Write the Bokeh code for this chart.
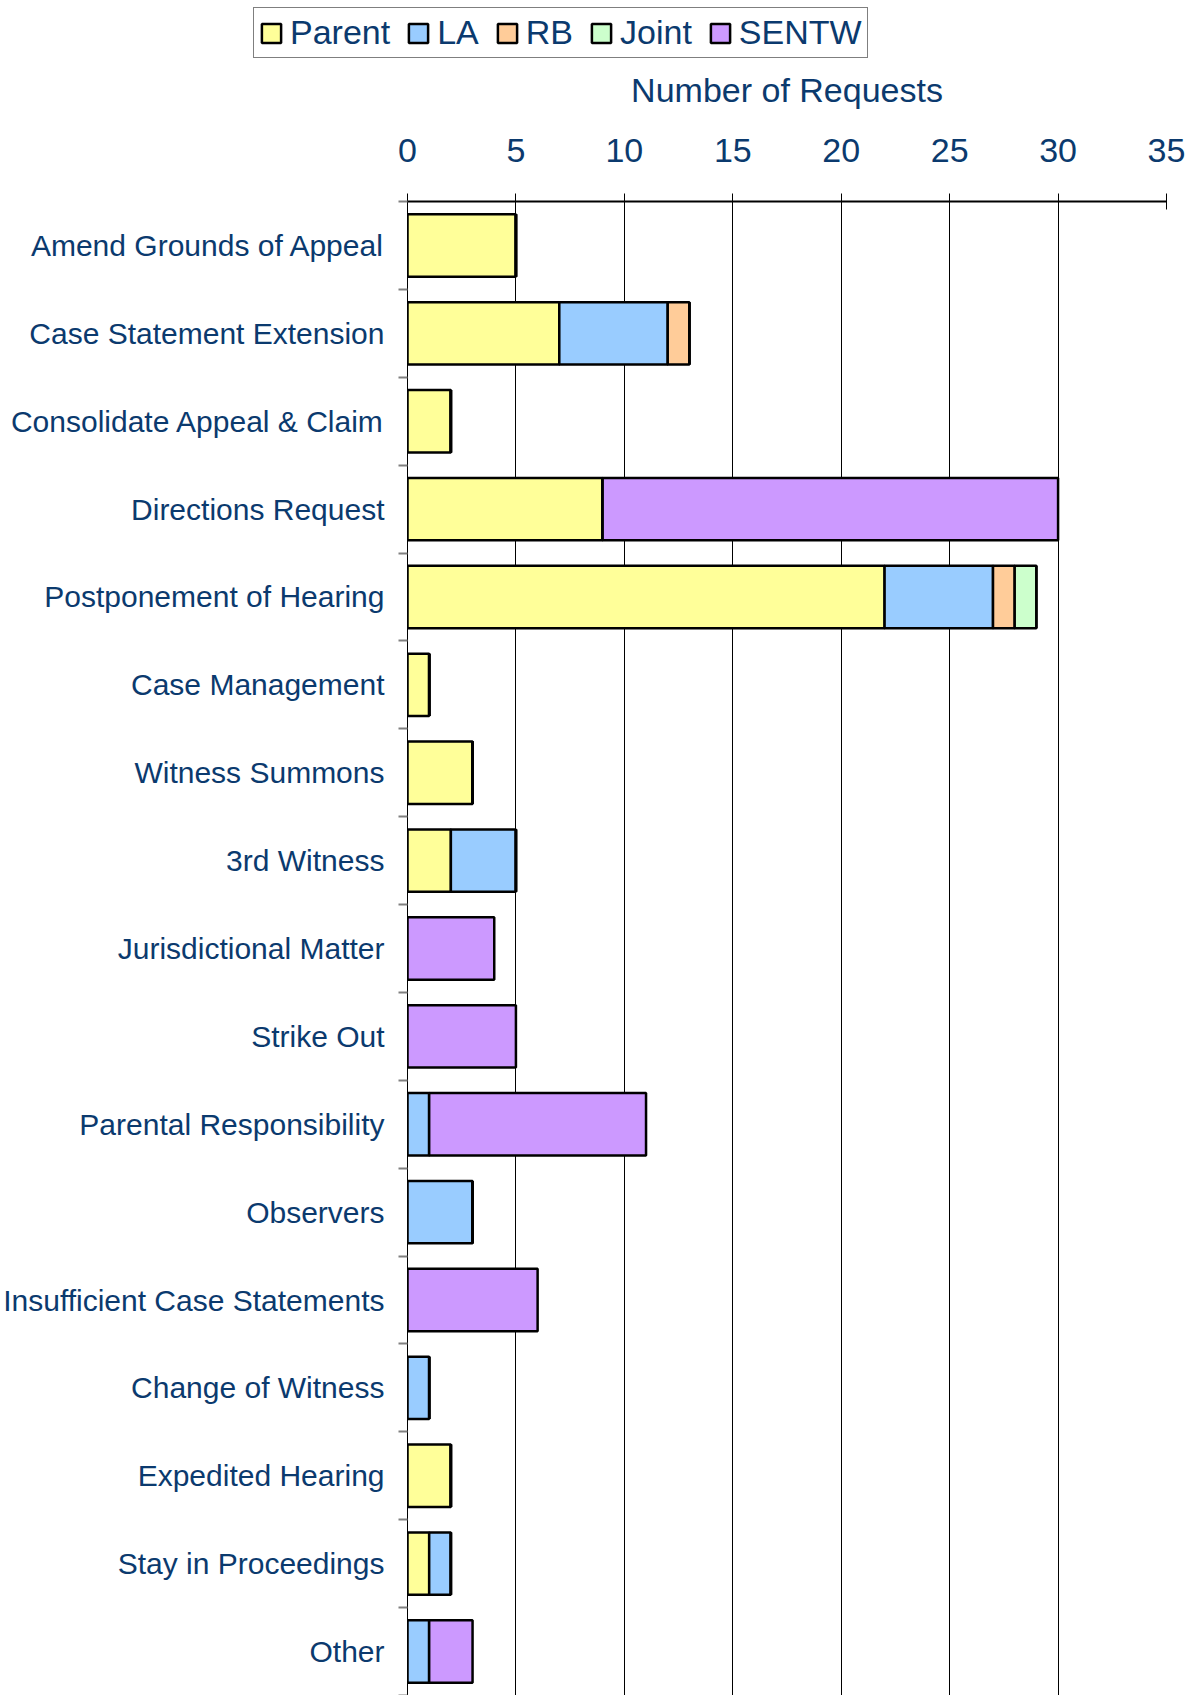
from bokeh.plotting import figure
from bokeh.layouts import column
from bokeh.models import Range1d, FixedTicker, Legend, LegendItem, ColumnDataSource
from bokeh.embed import file_html
from bokeh.resources import INLINE

categories = [
    "Amend Grounds of Appeal", "Case Statement Extension", "Consolidate Appeal & Claim",
    "Directions Request", "Postponement of Hearing", "Case Management", "Witness Summons",
    "3rd Witness", "Jurisdictional Matter", "Strike Out", "Parental Responsibility",
    "Observers", "Insufficient Case Statements", "Change of Witness", "Expedited Hearing",
    "Stay in Proceedings", "Other",
]
parent = [5, 7, 2, 9, 22, 1, 3, 2, 0, 0, 0, 0, 0, 0, 2, 1, 0]
la     = [0, 5, 0, 0, 5, 0, 0, 3, 0, 0, 1, 3, 0, 1, 0, 1, 1]
rb     = [0, 1, 0, 0, 1, 0, 0, 0, 0, 0, 0, 0, 0, 0, 0, 0, 0]
joint  = [0, 0, 0, 0, 1, 0, 0, 0, 0, 0, 0, 0, 0, 0, 0, 0, 0]
sentw  = [0, 0, 0, 21, 0, 0, 0, 0, 4, 5, 10, 0, 6, 0, 0, 0, 2]
series_names = ["Parent", "LA", "RB", "Joint", "SENTW"]
series_colors = ["#FFFF99", "#99CCFF", "#FFCC99", "#CCFFCC", "#CC99FF"]
x_ticks = [0, 5, 10, 15, 20, 25, 30, 35]

TEXT = "#0B3A6E"
FONT = "Liberation Sans"
WIDTH = 1188

n = len(categories)
centers = [i + 0.5 for i in range(n)]
source = ColumnDataSource(dict(y=centers, Parent=parent, LA=la, RB=rb, Joint=joint, SENTW=sentw))

# ---- legend strip (separate figure so the legend is not clipped) ----
LEG_H = 62
top = figure(width=WIDTH, height=LEG_H, x_range=Range1d(0, 35), y_range=Range1d(n, 0),
             x_axis_type=None, y_axis_type=None, output_backend="svg", toolbar_location=None,
             min_border=0)
top.frame_align = False
top.outline_line_color = None
top.xgrid.visible = False
top.ygrid.visible = False
# same stacked bars, hidden: they only feed the legend swatches
leg_renderers = top.hbar_stack(series_names, y="y", height=0.71, color=series_colors,
                               line_color="black", line_width=2.5, source=source)
for r in leg_renderers:
    r.visible = False
legend = Legend(
    items=[LegendItem(label=name, renderers=[r]) for name, r in zip(series_names, leg_renderers)],
    orientation="horizontal",
    location=(253, 4),
    label_text_font=FONT, label_text_font_size="34px", label_text_color=TEXT,
    glyph_width=24, glyph_height=24, label_standoff=7, spacing=16, padding=5,
    border_line_color="black", border_line_width=1, background_fill_color="white",
    background_fill_alpha=1, margin=0, inactive_fill_alpha=0,
)
top.add_layout(legend, "center")

# ---- main chart ----
TOP = 201 - LEG_H
HEIGHT = 1695 - LEG_H
p = figure(width=WIDTH, height=HEIGHT, x_range=Range1d(0, 35), y_range=Range1d(n, 0),
           x_axis_location="above", output_backend="svg", toolbar_location=None,
           min_border_left=394, min_border_right=22, min_border_top=TOP, min_border_bottom=0)
p.frame_align = False
p.outline_line_color = None
p.background_fill_color = "white"

p.hbar_stack(series_names, y="y", height=0.71, color=series_colors,
             line_color="black", line_width=2.5, source=source)

xa = p.xaxis[0]
xa.ticker = FixedTicker(ticks=x_ticks)
xa.axis_label = "Number of Requests"
xa.axis_label_text_font = FONT
xa.axis_label_text_font_size = "34px"
xa.axis_label_text_font_style = "normal"
xa.axis_label_text_color = TEXT
xa.axis_label_standoff = 27
xa.major_label_text_font = FONT
xa.major_label_text_font_size = "34px"
xa.major_label_text_color = TEXT
xa.major_label_standoff = 32
xa.major_tick_out = 8
xa.major_tick_in = 8
xa.major_tick_line_color = "black"
xa.minor_tick_line_color = None
xa.axis_line_color = "black"
xa.axis_line_width = 2

ya = p.yaxis[0]
ya.ticker = FixedTicker(ticks=centers, minor_ticks=list(range(n + 1)))
ya.major_label_overrides = {c: name for c, name in zip(centers, categories)}
ya.major_label_text_font = FONT
ya.major_label_text_font_size = "30px"
ya.major_label_text_color = TEXT
ya.major_label_standoff = 14
ya.major_tick_out = 0
ya.major_tick_in = 0
ya.minor_tick_out = 9
ya.minor_tick_in = 0
ya.minor_tick_line_color = "#808080"
ya.minor_tick_line_width = 2
ya.axis_line_color = "black"
ya.axis_line_width = 1

p.xgrid.ticker = FixedTicker(ticks=x_ticks)
p.xgrid.grid_line_color = "black"
p.xgrid.grid_line_width = 1
p.ygrid.grid_line_color = None

layout = column(top, p, spacing=0)
open("out.html", "w").write(file_html(layout, INLINE))
